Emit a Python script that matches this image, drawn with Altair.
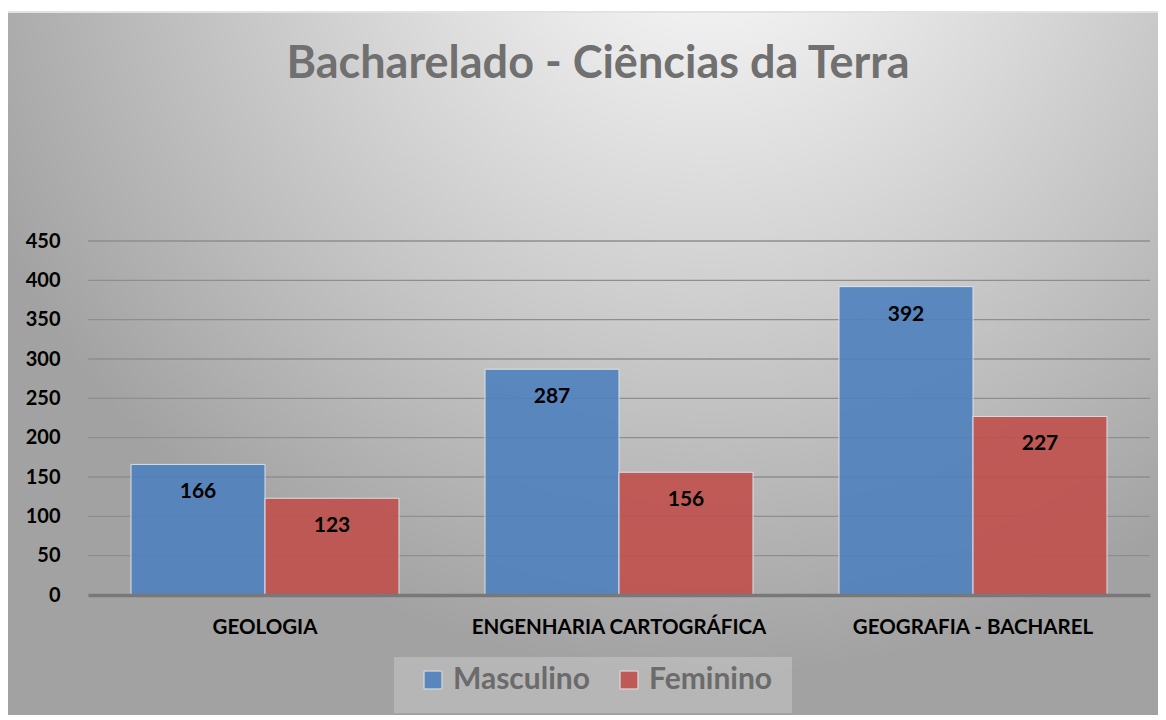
import altair as alt
import pandas as pd

categories = ["GEOLOGIA", "ENGENHARIA CARTOGRÁFICA", "GEOGRAFIA - BACHAREL"]
series_names = ["Masculino", "Feminino"]
masculino = [166, 287, 392]
feminino = [123, 156, 227]
y_ticks = [0, 50, 100, 150, 200, 250, 300, 350, 400, 450]
title_text = "Bacharelado - Ciências da Terra"

rows = []
for c, m, f in zip(categories, masculino, feminino):
    rows.append({"curso": c, "genero": "Masculino", "valor": m})
    rows.append({"curso": c, "genero": "Feminino", "valor": f})
df = pd.DataFrame(rows)
grid_df = pd.DataFrame({"valor": y_ticks[1:]})
title_df = pd.DataFrame({"t": [title_text]})

FONT = "Lato"
W, H = 1062, 354
PAD_L, PAD_T = 80, 233

bg_grad = alt.RadialGradient(
    gradient="radial",
    x1=0.6, y1=0.08, r1=0.0,
    x2=0.6, y2=0.08, r2=0.68,
    stops=[
        alt.GradientStop(offset=0.0, color="#ffffff"),
        alt.GradientStop(offset=0.45, color="#d6d6d6"),
        alt.GradientStop(offset=1.0, color="#a2a2a2"),
    ],
)

background = alt.Chart(pd.DataFrame({"k": [0]})).mark_rect(
    fill=bg_grad, stroke="#e2e2e2", strokeWidth=2, clip=False
).encode(
    x=alt.value(-81), x2=alt.value(1090),
    y=alt.value(-229), y2=alt.value(490),
)

legend_box = alt.Chart(pd.DataFrame({"k": [0]})).mark_rect(
    fill="#ffffff", fillOpacity=0.22, clip=False
).encode(
    x=alt.value(306), x2=alt.value(704),
    y=alt.value(416), y2=alt.value(472),
)

title_mark = alt.Chart(title_df).mark_text(
    font=FONT, fontSize=45, fontWeight="bold", color="#707070",
    baseline="alphabetic", align="center", clip=False,
).encode(
    x=alt.value(510), y=alt.value(-163), text="t:N",
)

yscale = alt.Scale(domain=[0, 450], nice=False)

xenc = alt.X(
    "curso:N", sort=categories, title=None,
    scale=alt.Scale(paddingInner=0.243, paddingOuter=0.1215),
    axis=alt.Axis(labelAngle=0, labelFont=FONT, labelFontSize=20.5,
                  labelFontWeight="bold", labelColor="#000000",
                  labelPadding=22, ticks=False, domain=True,
                  domainColor="#787878", domainWidth=3.5, grid=False,
                  labelLimit=500, zindex=2),
)
yenc = alt.Y(
    "valor:Q", title=None, scale=yscale,
    axis=alt.Axis(values=y_ticks, labelFont=FONT, labelFontSize=20,
                  labelFontWeight="bold", labelColor="#000000",
                  labelPadding=28, ticks=False, domain=False,
                  labelOverlap=False, grid=False, zindex=2),
)

grid = alt.Chart(grid_df).mark_rule(color="#8e8e8e", strokeWidth=1.3).encode(
    y=yenc,
)

bars = alt.Chart(df).mark_bar(
    opacity=0.9, stroke="#dfe6ef", strokeWidth=1
).encode(
    x=xenc,
    y=yenc,
    xOffset=alt.XOffset("genero:N", sort=series_names),
    color=alt.Color(
        "genero:N",
        sort=series_names,
        scale=alt.Scale(domain=series_names, range=["#4f81bd", "#c0504d"]),
        legend=alt.Legend(
            title=None, orient="none", direction="horizontal",
            legendX=324, legendY=418,
            symbolType="square", symbolSize=320,
            symbolStrokeColor="#e8e8e8", symbolStrokeWidth=1,
            labelFont=FONT, labelFontSize=30, labelFontWeight="bold",
            labelColor="#6b6b6b", labelOffset=5, columnPadding=24,
            symbolOpacity=0.9, padding=6, labelLimit=300, zindex=3,
        ),
    ),
)

labels = alt.Chart(df).mark_text(
    font=FONT, fontSize=21, fontWeight="bold", color="#000000",
    baseline="middle", dy=28,
).encode(
    x=xenc,
    xOffset=alt.XOffset("genero:N", sort=series_names),
    y=yenc,
    text=alt.Text("valor:Q"),
)

chart = alt.layer(background, legend_box, title_mark, grid, bars, labels).properties(
    width=W, height=H,
    autosize=alt.AutoSizeParams(type="none"),
    padding={"left": PAD_L, "top": PAD_T, "right": 8, "bottom": 120},
).configure_view(stroke=None).configure(background="#ffffff")

chart.save("out.html", embed_options={"renderer": "svg", "actions": False})
